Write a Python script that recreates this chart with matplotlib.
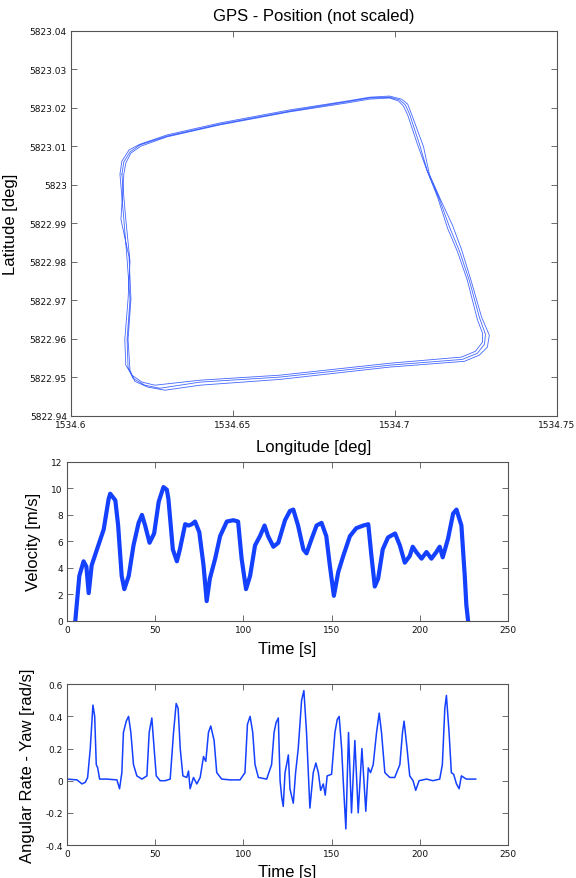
import matplotlib
matplotlib.use("Agg")
import matplotlib.pyplot as plt
import numpy as np

plt.rcParams['font.family'] = ['Liberation Sans', 'DejaVu Sans']

LINE_BLUE = '#1440ff'
SPINE_GREY = '#555555'

# ---- GPS track, three laps ----
lap1_lon = [1534.6157, 1534.6163, 1534.6182, 1534.6213, 1534.6296, 1534.6459, 1534.6675,
            1534.6851, 1534.6921, 1534.6983, 1534.7014, 1534.7032, 1534.7045, 1534.7076,
            1534.7100, 1534.7137, 1534.7168, 1534.7199, 1534.7230, 1534.7260, 1534.7279,
            1534.7276, 1534.7254, 1534.7208, 1534.6983, 1534.6644, 1534.6398, 1534.6274,
            1534.6228, 1534.6191, 1534.6176, 1534.6173, 1534.6182, 1534.6173, 1534.6163]
lap1_lat = [5823.0028, 5823.0060, 5823.0086, 5823.0104, 5823.0127, 5823.0158, 5823.0192,
            5823.0216, 5823.0226, 5823.0228, 5823.0221, 5823.0208, 5823.0184, 5823.0104,
            5823.0036, 5822.9963, 5822.9891, 5822.9828, 5822.9750, 5822.9657, 5822.9612,
            5822.9586, 5822.9563, 5822.9547, 5822.9532, 5822.9501, 5822.9488, 5822.9472,
            5822.9480, 5822.9498, 5822.9527, 5822.9599, 5822.9703, 5822.9807, 5822.9911]

lap2_lon = [1534.6151, 1534.6157, 1534.6179, 1534.6213, 1534.6296, 1534.6459, 1534.6675,
            1534.6851, 1534.6921, 1534.6983, 1534.7020, 1534.7039, 1534.7051, 1534.7088,
            1534.7106, 1534.7140, 1534.7177, 1534.7205, 1534.7236, 1534.7267, 1534.7291,
            1534.7285, 1534.7260, 1534.7214, 1534.6983, 1534.6644, 1534.6398, 1534.6290,
            1534.6237, 1534.6197, 1534.6182, 1534.6176, 1534.6185, 1534.6179, 1534.6154]
lap2_lat = [5823.0028, 5823.0062, 5823.0091, 5823.0106, 5823.0130, 5823.0161, 5823.0195,
            5823.0218, 5823.0228, 5823.0231, 5823.0223, 5823.0210, 5823.0184, 5823.0099,
            5823.0028, 5822.9963, 5822.9896, 5822.9833, 5822.9748, 5822.9657, 5822.9610,
            5822.9579, 5822.9558, 5822.9542, 5822.9527, 5822.9495, 5822.9480, 5822.9467,
            5822.9475, 5822.9490, 5822.9519, 5822.9599, 5822.9703, 5822.9813, 5822.9911]

lap3_lon = [1534.6163, 1534.6169, 1534.6185, 1534.6216, 1534.6296, 1534.6459, 1534.6675,
            1534.6851, 1534.6921, 1534.6983, 1534.7011, 1534.7026, 1534.7039, 1534.7069,
            1534.7097, 1534.7131, 1534.7162, 1534.7193, 1534.7223, 1534.7254, 1534.7270,
            1534.7270, 1534.7248, 1534.7205, 1534.6983, 1534.6644, 1534.6398, 1534.6259,
            1534.6219, 1534.6188, 1534.6169, 1534.6166, 1534.6176, 1534.6182, 1534.6169]
lap3_lat = [5823.0028, 5823.0057, 5823.0083, 5823.0101, 5823.0125, 5823.0156, 5823.0190,
            5823.0213, 5823.0223, 5823.0226, 5823.0218, 5823.0205, 5823.0182, 5823.0106,
            5823.0041, 5822.9969, 5822.9888, 5822.9826, 5822.9753, 5822.9651, 5822.9615,
            5822.9592, 5822.9568, 5822.9553, 5822.9537, 5822.9506, 5822.9493, 5822.9480,
            5822.9488, 5822.9506, 5822.9532, 5822.9599, 5822.9703, 5822.9802, 5822.9911]

lon_ticks = [1534.6, 1534.65, 1534.7, 1534.75]
lon_labels = ['1534.6', '1534.65', '1534.7', '1534.75']
lat_ticks = [5822.94, 5822.95, 5822.96, 5822.97, 5822.98, 5822.99,
             5823.0, 5823.01, 5823.02, 5823.03, 5823.04]
lat_labels = ['5822.94', '5822.95', '5822.96', '5822.97', '5822.98', '5822.99',
              '5823', '5823.01', '5823.02', '5823.03', '5823.04']

# ---- velocity ----
vel_t = [4.7, 7, 9.4, 11, 12.3, 14, 17, 20.8, 23.6, 24.5, 27.4, 29, 31, 32.5, 35, 37.7,
         40.6, 42.5, 44.3, 46.8, 49.4, 52, 54.7, 56.6, 57.5, 60, 62.3, 64, 67, 69, 70.8,
         72.6, 75, 77.4, 79.2, 81, 84, 86.8, 90.6, 94.3, 97, 99, 101.5, 103.8, 106.6,
         109.4, 112, 114, 117, 119.8, 123.6, 126.4, 128.3, 131, 134, 135.8, 138.7, 141.5,
         144.3, 147, 149, 151.3, 153.8, 156.6, 160.4, 164, 168, 170.8, 172.6, 174.5,
         176.4, 179, 182, 186, 188.7, 191.5, 194.3, 196, 198, 201, 203.8, 206.6, 209.4,
         211.3, 213, 216, 218.9, 220.8, 223.6, 225.5, 226.4, 227.4]
vel_v = [0, 3.4, 4.5, 4.1, 2.1, 4.2, 5.4, 6.9, 9.2, 9.6, 9.1, 7.2, 3.4, 2.4, 3.4, 5.7,
         7.4, 8.0, 7.2, 5.9, 6.6, 9.0, 10.1, 9.9, 9.2, 5.4, 4.5, 5.4, 7.3, 7.2, 7.3,
         7.5, 6.7, 4.2, 1.5, 3.2, 4.7, 6.4, 7.5, 7.6, 7.5, 4.7, 2.4, 3.4, 5.7,
         6.4, 7.2, 6.4, 5.6, 5.9, 7.6, 8.3, 8.4, 7.2, 5.4, 5.1, 6.2, 7.2,
         7.4, 6.4, 4.2, 1.9, 3.7, 4.9, 6.4, 7.0, 7.2, 7.3, 4.9, 2.6,
         3.2, 5.4, 6.3, 6.6, 5.7, 4.4, 4.9, 5.6, 5.2, 4.7, 5.2, 4.7, 5.2,
         5.6, 4.8, 6.2, 8.1, 8.4, 7.2, 3.4, 1.2, 0]

# ---- yaw rate ----
yaw_t = [0, 5.7, 8.5, 10.4, 11.7, 13.2, 14.7, 15.7, 16.6, 17.4, 18.5, 22.6, 28.3, 29.8,
         31.1, 32, 33.6, 34.9, 36.2, 37.7, 39.6, 42.5, 45.3, 46.6, 48.1, 49.4, 50.6, 52.8,
         55.7, 58.5, 60.4, 61.9, 63, 64.2, 65.7, 67.9, 68.9, 69.8, 71.7, 73.6, 75.5, 77.4,
         78.7, 80.2, 81.5, 83.4, 84.9, 87.7, 92.5, 98.1, 100.9, 102.3, 103.8, 105.3,
         106.6, 108.5, 113.2, 116, 117.4, 118.5, 119.8, 120.8, 121.7, 122.6, 123.6, 124.5,
         125.5, 126.4, 128.3, 129.6, 131.1, 133, 134.3, 135.8, 137.7, 139.6, 141.1, 142.5,
         143.8, 145.3, 146.4, 147.5, 150, 151.9, 153.2, 154.3, 155.7, 156.6, 158.1, 159.6,
         161.3, 163.2, 165.1, 167.2, 169.4, 170.8, 172.1, 173.6, 175.5, 177, 178.3, 180.2,
         183, 185.8, 188.7, 190.2, 191.1, 192.8, 194.3, 196.2, 197.7, 199.6, 203.8, 207.5,
         211.3, 212.8, 214.2, 215.1, 216.6, 217.9, 219.2, 220.8, 222.3, 223.6, 226.4, 231.7]
yaw_r = [0.01, 0.005, -0.02, -0.01, 0.02, 0.2, 0.47, 0.4, 0.1, 0.08, 0.01, 0.01, 0.005, -0.05,
         0.05, 0.3, 0.37, 0.4, 0.3, 0.1, 0.03, 0.01, 0.03, 0.3, 0.39, 0.2, 0.03, 0.0,
         0.0, 0.01, 0.3, 0.48, 0.45, 0.2, 0.03, 0.02, 0.06, -0.05, 0.02, -0.02, 0.02, 0.15,
         0.12, 0.3, 0.34, 0.25, 0.05, 0.01, 0.005, 0.005, 0.05, 0.35, 0.4, 0.3,
         0.1, 0.02, 0.01, 0.1, 0.3, 0.36, 0.39, 0.0, -0.1, -0.16, 0.05, 0.1,
         0.16, -0.05, -0.14, 0.05, 0.2, 0.5, 0.56, 0.3, -0.17, 0.05, 0.11, 0.05,
         -0.06, -0.02, -0.09, 0.03, 0.04, 0.3, 0.38, 0.4, 0.2, 0.0, -0.3, 0.3,
         -0.2, 0.25, -0.2, 0.2, -0.19, 0.08, 0.05, 0.1, 0.3, 0.42, 0.3, 0.05,
         0.02, 0.02, 0.1, 0.3, 0.37, 0.2, 0.03, 0.0, -0.06, 0.0, 0.01, 0.0,
         0.01, 0.1, 0.45, 0.53, 0.3, 0.05, 0.04, -0.02, -0.05, 0.03, 0.01, 0.01]

time_ticks = [0, 50, 100, 150, 200, 250]
vel_ticks = [0, 2, 4, 6, 8, 10, 12]
yaw_ticks = [-0.4, -0.2, 0, 0.2, 0.4, 0.6]
yaw_labels = ['-0.4', '-0.2', '0', '0.2', '0.4', '0.6']


def style_axes(ax):
    for s in ax.spines.values():
        s.set_color(SPINE_GREY)
        s.set_linewidth(0.8)
    ax.tick_params(direction='in', length=4, width=0.6, color=SPINE_GREY,
                   top=True, right=True, labelsize=6.5, pad=3, labelcolor='#111111')
    for lab in ax.get_xticklabels() + ax.get_yticklabels():
        lab.set_family('DejaVu Sans')


fig = plt.figure(figsize=(5.76, 8.79), dpi=100)

# GPS
ax1 = fig.add_axes([0.1233, 0.5256, 0.8438, 0.438])
track_lon = lap1_lon + lap2_lon + lap3_lon + [lap1_lon[0]]
track_lat = lap1_lat + lap2_lat + lap3_lat + [lap1_lat[0]]
ax1.plot(track_lon, track_lat, color=LINE_BLUE, lw=0.6, alpha=0.8)
ax1.set_xlim(1534.6, 1534.75)
ax1.set_ylim(5822.94, 5823.04)
ax1.set_xticks(lon_ticks)
ax1.set_xticklabels(lon_labels)
ax1.set_yticks(lat_ticks)
ax1.set_yticklabels(lat_labels)
style_axes(ax1)
ax1.text(0.499, 1.04, 'GPS - Position (not scaled)', transform=ax1.transAxes,
         ha='center', va='center', fontsize=12)
ax1.set_xlabel('Longitude [deg]', fontsize=12)
ax1.set_ylabel('Latitude [deg]', fontsize=12)
ax1.xaxis.set_label_coords(0.5, -0.06)
ax1.yaxis.set_label_coords(-0.11, 0.5)

# velocity
ax2 = fig.add_axes([0.1163, 0.2924, 0.7656, 0.181])
ax2.plot(vel_t, vel_v, color=LINE_BLUE, lw=3.0, solid_joinstyle='round')
ax2.set_xlim(0, 250)
ax2.set_ylim(0, 12)
ax2.set_xticks(time_ticks)
ax2.set_yticks(vel_ticks)
style_axes(ax2)
ax2.set_xlabel('Time [s]', fontsize=12)
ax2.set_ylabel('Velocity [m/s]', fontsize=12)
ax2.xaxis.set_label_coords(0.5, -0.125)
ax2.yaxis.set_label_coords(-0.06, 0.5)

# yaw rate
ax3 = fig.add_axes([0.1163, 0.0375, 0.7656, 0.183])
ax3.plot(yaw_t, yaw_r, color=LINE_BLUE, lw=1.1)
ax3.set_xlim(0, 250)
ax3.set_ylim(-0.4, 0.6)
ax3.set_xticks(time_ticks)
ax3.set_yticks(yaw_ticks)
ax3.set_yticklabels(yaw_labels)
style_axes(ax3)
ax3.set_xlabel('Time [s]', fontsize=12)
ax3.set_ylabel('Angular Rate - Yaw [rad/s]', fontsize=12)
ax3.xaxis.set_label_coords(0.5, -0.115)
ax3.yaxis.set_label_coords(-0.072, 0.5)

fig.savefig('out.png', dpi=100)
